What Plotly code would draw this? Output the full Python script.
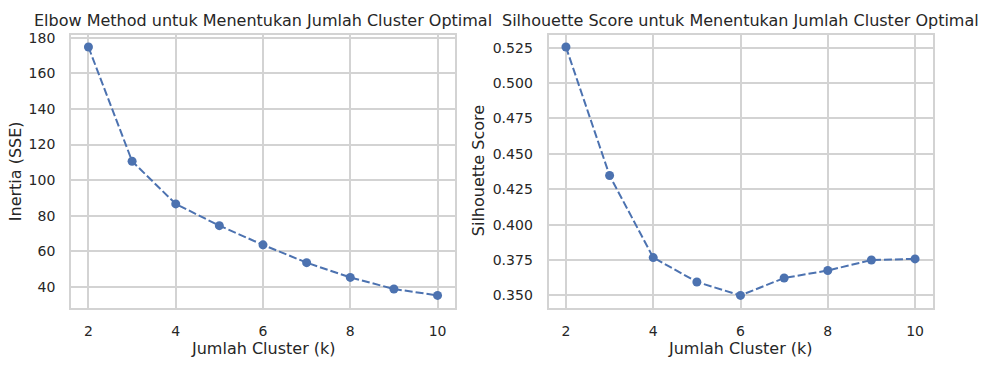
import plotly.graph_objects as go

k_values = [2, 3, 4, 5, 6, 7, 8, 9, 10]
inertia = [174.8, 110.6, 86.6, 74.4, 63.6, 53.6, 45.3, 38.8, 35.2]
silhouette = [0.5255, 0.4347, 0.3767, 0.3595, 0.3500, 0.3623, 0.3676, 0.3750, 0.3758]

x_ticks = [2, 4, 6, 8, 10]
inertia_ticks = [40, 60, 80, 100, 120, 140, 160, 180]
sil_ticks = [0.350, 0.375, 0.400, 0.425, 0.450, 0.475, 0.500, 0.525]

titles = ["Elbow Method untuk Menentukan Jumlah Cluster Optimal",
          "Silhouette Score untuk Menentukan Jumlah Cluster Optimal"]
x_label = "Jumlah Cluster (k)"
y_labels = ["Inertia (SSE)", "Silhouette Score"]

W, H = 984, 367
BLUE = "#4C72B0"
TXT = "#262626"
GRID = "#d3d3d3"
FONT = "DejaVu Sans"

def pad_range(vals, frac=0.05):
    lo, hi = min(vals), max(vals)
    s = hi - lo
    return [lo - frac * s, hi + frac * s]

fig = go.Figure()
line_style = dict(color=BLUE, width=2, dash="8px,3px")
marker_style = dict(color=BLUE, size=9)
fig.add_trace(go.Scatter(x=k_values, y=inertia, mode="lines+markers",
                         line=line_style, marker=marker_style,
                         xaxis="x", yaxis="y", showlegend=False))
fig.add_trace(go.Scatter(x=k_values, y=silhouette, mode="lines+markers",
                         line=line_style, marker=marker_style,
                         xaxis="x2", yaxis="y2", showlegend=False))

px0 = lambda p: p / W
py0 = lambda p: 1 - p / H
dom_y = [py0(307), py0(30)]
dom_x1 = [px0(71), px0(455)]
dom_x2 = [px0(548.5), px0(932.5)]

axis_common = dict(showline=True, mirror=True, linecolor=GRID, linewidth=1.8,
                   showgrid=True, gridcolor=GRID, gridwidth=1.5, zeroline=False,
                   ticks="outside", tickcolor="rgba(0,0,0,0)",
                   tickfont=dict(family=FONT, size=14, color=TXT))

fig.update_layout(
    width=W, height=H,
    margin=dict(l=0, r=0, t=0, b=0),
    paper_bgcolor="white", plot_bgcolor="white",
    font=dict(family=FONT, color=TXT),
    xaxis=dict(domain=dom_x1, anchor="y", range=pad_range(k_values),
               tickvals=x_ticks, ticklen=9, **axis_common),
    yaxis=dict(domain=dom_y, anchor="x", range=pad_range(inertia),
               tickvals=inertia_ticks, ticklen=11, **axis_common),
    xaxis2=dict(domain=dom_x2, anchor="y2", range=pad_range(k_values),
                tickvals=x_ticks, ticklen=9, **axis_common),
    yaxis2=dict(domain=dom_y, anchor="x2", range=pad_range(silhouette),
                tickvals=sil_ticks, tickformat=".3f", ticklen=11, **axis_common),
)

ann = []
for dom, t in zip([dom_x1, dom_x2], titles):
    ann.append(dict(text=t, x=(dom[0] + dom[1]) / 2, y=py0(16), xref="paper", yref="paper",
                    xanchor="center", yanchor="middle", showarrow=False,
                    font=dict(family=FONT, size=16, color=TXT)))
    ann.append(dict(text=x_label, x=(dom[0] + dom[1]) / 2, y=py0(348), xref="paper", yref="paper",
                    xanchor="center", yanchor="middle", showarrow=False,
                    font=dict(family=FONT, size=16, color=TXT)))
for xc, t in zip([15, 478], y_labels):
    ann.append(dict(text=t, x=px0(xc), y=(dom_y[0] + dom_y[1]) / 2, xref="paper", yref="paper",
                    xanchor="center", yanchor="middle", textangle=-90, showarrow=False,
                    font=dict(family=FONT, size=16, color=TXT)))
fig.update_layout(annotations=ann)

fig.write_html("out.html", config={"displayModeBar": False},
               post_script="document.body.style.margin='0';document.body.style.overflow='hidden';")
